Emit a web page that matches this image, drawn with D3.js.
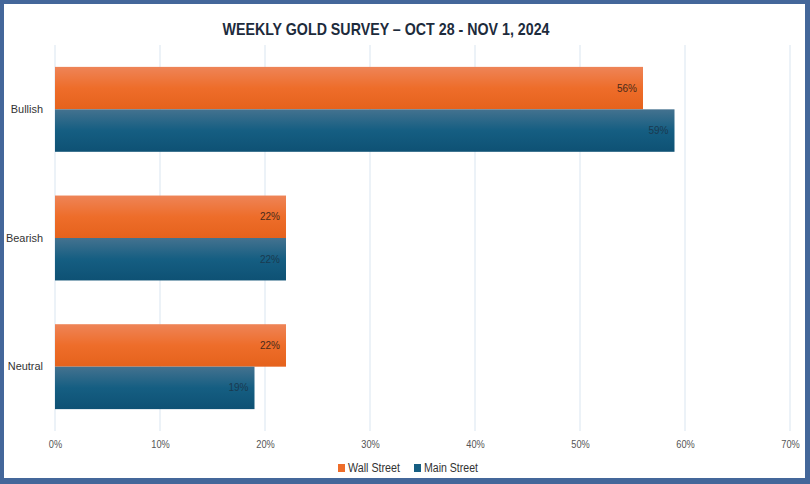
<!DOCTYPE html>
<html>
<head>
<meta charset="utf-8">
<script src="https://cdn.jsdelivr.net/npm/d3@7"></script>
<style>
  html, body { margin: 0; padding: 0; background: #fff; }
  svg { display: block; }
</style>
</head>
<body>
<div id="chart"></div>
<script>
var categories = ["Bullish", "Bearish", "Neutral"];
var seriesNames = ["Wall Street", "Main Street"];
var wallStreet = [56, 22, 22];
var mainStreet = [59, 22, 19];
var ticks = [0, 10, 20, 30, 40, 50, 60, 70];

var W = 810, H = 484;
var margin = { top: 45, right: 20, bottom: 53, left: 55 };
var narrow = "Liberation Sans Narrow, Arial Narrow, Liberation Sans, sans-serif";

var svg = d3.select("#chart").append("svg")
  .attr("width", W).attr("height", H);

// squeeze text horizontally to mimic the condensed font
var squeeze = function (sel, k) {
  sel.each(function () {
    var len = this.getComputedTextLength();
    d3.select(this).attr("textLength", len * k).attr("lengthAdjust", "spacingAndGlyphs");
  });
};

var defs = svg.append("defs");
var gradOrange = defs.append("linearGradient").attr("id", "gOrange")
  .attr("x1", 0).attr("y1", 0).attr("x2", 0).attr("y2", 1);
gradOrange.append("stop").attr("offset", "0%").attr("stop-color", "#EE8457");
gradOrange.append("stop").attr("offset", "50%").attr("stop-color", "#EE6D2A");
gradOrange.append("stop").attr("offset", "100%").attr("stop-color", "#E5621C");

var gradBlue = defs.append("linearGradient").attr("id", "gBlue")
  .attr("x1", 0).attr("y1", 0).attr("x2", 0).attr("y2", 1);
gradBlue.append("stop").attr("offset", "0%").attr("stop-color", "#44728F");
gradBlue.append("stop").attr("offset", "50%").attr("stop-color", "#155E82");
gradBlue.append("stop").attr("offset", "100%").attr("stop-color", "#0E5174");

// frame
svg.append("rect").attr("width", W).attr("height", H).attr("fill", "#44679A");
svg.append("rect").attr("x", 4).attr("y", 4).attr("width", W - 9).attr("height", H - 10)
  .attr("fill", "#fff");

svg.append("text")
  .attr("x", 386).attr("y", 35)
  .attr("text-anchor", "middle")
  .attr("font-family", narrow)
  .attr("font-weight", "bold")
  .attr("font-size", 17)
  .attr("fill", "#1D2B3C")
  .attr("textLength", 327).attr("lengthAdjust", "spacingAndGlyphs")
  .text("WEEKLY GOLD SURVEY \u2013 OCT 28 - NOV 1, 2024");

var x = d3.scaleLinear().domain([0, 70]).range([margin.left, W - margin.right]);
var y = d3.scaleBand().domain(categories).range([margin.top, H - margin.bottom])
  .paddingInner(0.34).paddingOuter(0.17);
var ySub = d3.scaleBand().domain(seriesNames).range([0, y.bandwidth()]);

// gridlines
svg.append("g").selectAll("line").data(ticks).enter().append("line")
  .attr("x1", function (d) { return x(d); })
  .attr("x2", function (d) { return x(d); })
  .attr("y1", margin.top)
  .attr("y2", H - margin.bottom)
  .attr("stroke", "#D9E5F0").attr("stroke-width", 1);

// x axis labels
var xAxis = d3.axisBottom(x).tickValues(ticks)
  .tickFormat(function (d) { return d + "%"; }).tickSize(0).tickPadding(8);
var gx = svg.append("g").attr("transform", "translate(0," + (H - margin.bottom + 1) + ")").call(xAxis);
gx.select(".domain").remove();
gx.selectAll("text")
  .attr("font-family", narrow)
  .attr("font-size", 11).attr("fill", "#555")
  .call(squeeze, 0.84);

// y axis labels
var yAxis = d3.axisLeft(y).tickSize(0).tickPadding(12);
var gy = svg.append("g").attr("transform", "translate(" + margin.left + ",0)").call(yAxis);
gy.select(".domain").remove();
gy.selectAll("text")
  .attr("font-family", "Liberation Sans, Arial, sans-serif")
  .attr("font-size", 11.5).attr("fill", "#333")
  .call(squeeze, 0.95);

var rows = [];
for (var i = 0; i < categories.length; i++) {
  rows.push({ cat: categories[i], s: seriesNames[0], v: wallStreet[i], fill: "url(#gOrange)", txt: "#4A2A1A" });
  rows.push({ cat: categories[i], s: seriesNames[1], v: mainStreet[i], fill: "url(#gBlue)", txt: "#1A3A50" });
}

svg.append("g").selectAll("rect").data(rows).enter().append("rect")
  .attr("x", x(0))
  .attr("y", function (d) { return y(d.cat) + ySub(d.s); })
  .attr("width", function (d) { return x(d.v) - x(0); })
  .attr("height", ySub.bandwidth())
  .attr("fill", function (d) { return d.fill; });

svg.append("g").selectAll("text").data(rows).enter().append("text")
  .attr("x", function (d) { return x(d.v) - 6; })
  .attr("y", function (d) { return y(d.cat) + ySub(d.s) + ySub.bandwidth() / 2 + 3.5; })
  .attr("text-anchor", "end")
  .attr("font-family", "Liberation Sans, Arial, sans-serif")
  .attr("font-size", 10)
  .attr("fill", function (d) { return d.txt; })
  .text(function (d) { return d.v + "%"; });

// legend
var legend = svg.append("g").attr("transform", "translate(338,463)");
var legendColors = ["#EE6D2A", "#155E82"];
var lx = [0, 76];
seriesNames.forEach(function (name, i) {
  var g = legend.append("g").attr("transform", "translate(" + lx[i] + ",0)");
  g.append("rect").attr("width", 7).attr("height", 8).attr("y", 1).attr("fill", legendColors[i]);
  g.append("text").attr("x", 10).attr("y", 9)
    .attr("font-family", narrow)
    .attr("font-size", 12.5).attr("fill", "#333")
    .attr("textLength", i == 0 ? 52 : 54).attr("lengthAdjust", "spacingAndGlyphs")
    .text(name);
});
</script>
</body>
</html>
